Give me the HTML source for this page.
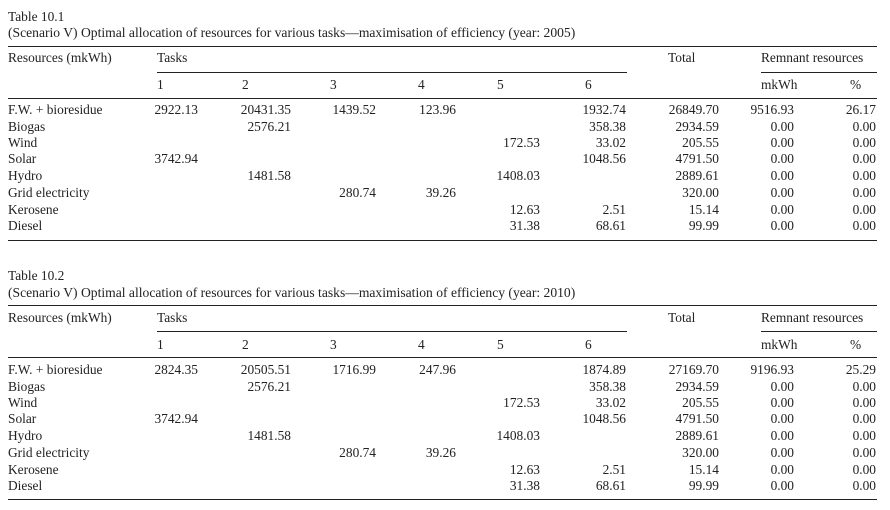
<!DOCTYPE html>
<html><head><meta charset="utf-8"><style>
body{margin:0;background:#fff;width:890px;height:508px;position:relative;overflow:hidden;font-family:"Liberation Serif",serif;font-size:13.4px;color:#222}
.t{position:absolute;left:0;top:0;width:890px;height:250px}
.x{position:absolute;height:16px;line-height:16px;white-space:nowrap}
.r{position:absolute;background:#222;height:1px}
.rt{text-align:right}
.c{font-size:13.6px}
</style></head><body>
<div id="a"></div>
<script>
function build(top,name,year,rows){
 var h='<div class="t" style="top:'+top+'px">';
 function tx(x,y,s,c){h+='<div class="x'+(c?' c':'')+'" style="left:'+x+'px;top:'+(y-8)+'px">'+s+'</div>';}
 function tr(x,y,s){h+='<div class="x rt" style="left:'+(x-100)+'px;width:100px;top:'+(y-8)+'px">'+s+'</div>';}
 function ln(x1,x2,y){h+='<div class="r" style="left:'+x1+'px;width:'+(x2-x1)+'px;top:'+y+'px"></div>';}
 tx(8,16.7,name);
 tx(8,33,'(Scenario V) Optimal allocation of resources for various tasks—maximisation of efficiency (year: '+year+')',1);
 ln(8,877,45.5);
 tx(8,58,'Resources (mkWh)');tx(157,58,'Tasks');tx(668,58,'Total');tx(761,58,'Remnant resources');
 ln(157,627,71.5);ln(761,877,71.5);
 var hx=[157,242,330,418,497,585];
 for(var i=0;i<6;i++)tx(hx[i],85,String(i+1));
 tx(761,85,'mkWh');tx(850,85,'%');
 ln(8,877,97.5);
 var ys=[110,127,143,159,176,193,210,226];
 var rx=[198,291,376,456,540,626,719,794,876];
 rows.forEach(function(r,j){tx(8,ys[j],r[0]);for(var k=1;k<r.length;k++)if(r[k])tr(rx[k-1],ys[j],r[k]);});
 ln(8,877,239.5);
 h+='</div>';return h;
}
var r1=[
['F.W. + bioresidue','2922.13','20431.35','1439.52','123.96','','1932.74','26849.70','9516.93','26.17'],
['Biogas','','2576.21','','','','358.38','2934.59','0.00','0.00'],
['Wind','','','','','172.53','33.02','205.55','0.00','0.00'],
['Solar','3742.94','','','','','1048.56','4791.50','0.00','0.00'],
['Hydro','','1481.58','','','1408.03','','2889.61','0.00','0.00'],
['Grid electricity','','','280.74','39.26','','','320.00','0.00','0.00'],
['Kerosene','','','','','12.63','2.51','15.14','0.00','0.00'],
['Diesel','','','','','31.38','68.61','99.99','0.00','0.00']];
var r2=JSON.parse(JSON.stringify(r1));
r2[0]=['F.W. + bioresidue','2824.35','20505.51','1716.99','247.96','','1874.89','27169.70','9196.93','25.29'];
document.getElementById('a').innerHTML=build(0,'Table 10.1','2005',r1)+build(259.5,'Table 10.2','2010',r2);
</script>
</body></html>
